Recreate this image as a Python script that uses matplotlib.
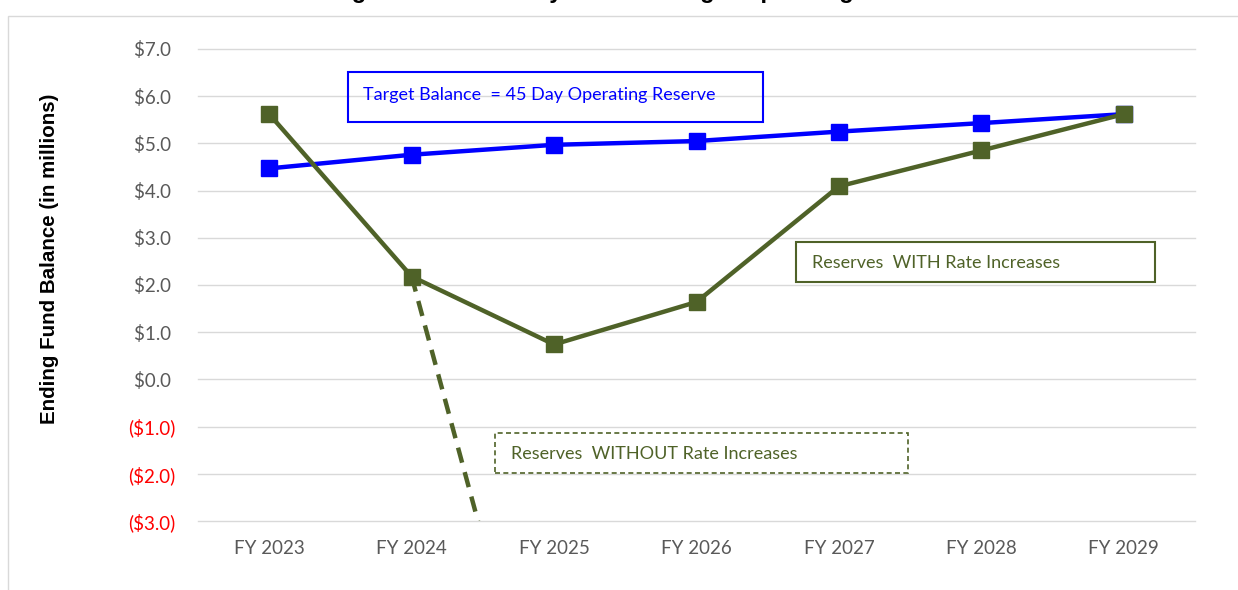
import matplotlib
matplotlib.use("Agg")
import matplotlib.pyplot as plt
from matplotlib import patches as mpatches

# ------------------------------------------------------------
# data (in $ millions)
# ------------------------------------------------------------
years = ["FY 2023", "FY 2024", "FY 2025", "FY 2026", "FY 2027", "FY 2028", "FY 2029"]
target_balance = [4.47, 4.76, 4.97, 5.05, 5.25, 5.43, 5.62]
with_rates = [5.62, 2.18, 0.74, 1.64, 4.09, 4.85, 5.62]
# without rate increases: only FY2024 -> FY2025 segment shown, runs off the bottom
without_years = [1, 2]
without_rates = [2.18, -8.95]

y_ticks = [7, 6, 5, 4, 3, 2, 1, 0, -1, -2, -3]

BLUE = "#0000FF"
GREEN = "#4F6228"
GRID = "#D9D9D9"
TICK_GRAY = "#595959"
TICK_FONT = "Lato"

fig = plt.figure(figsize=(12.38, 5.90), dpi=100)
ax = fig.add_axes([198 / 1238, 1 - 521 / 590, 997 / 1238, 472 / 590])

# outer chart-area border (clipped by the figure edges)
fig.patches.append(mpatches.Rectangle((8 / 1238, -0.1), 1.2, 1.1 - 16 / 590,
                                      transform=fig.transFigure, fill=False,
                                      edgecolor=GRID, linewidth=1.0))

x = list(range(len(years)))

ax.plot(x, target_balance, color=BLUE, lw=3.2, marker="s", ms=11.5,
        markerfacecolor=BLUE, markeredgecolor=BLUE, zorder=4)
ax.plot(without_years, without_rates, color=GREEN, lw=3.2, ls=(0, (3.5, 2.2)), zorder=3)
ax.plot(x, with_rates, color=GREEN, lw=3.2, marker="s", ms=11.5,
        markerfacecolor=GREEN, markeredgecolor=GREEN, zorder=5)

ax.set_xlim(-0.5, 6.5)
ax.set_ylim(-3, 7)
ax.set_yticks(y_ticks)
ax.set_yticklabels([f"${v:.1f} " if v >= 0 else f"(${abs(v):.1f})" for v in y_ticks])
for lbl, v in zip(ax.get_yticklabels(), y_ticks):
    lbl.set_color(TICK_GRAY if v >= 0 else "#FF0000")
    lbl.set_fontfamily(TICK_FONT)
    lbl.set_fontsize(13.5)
ax.set_xticks(x)
ax.set_xticklabels(years, fontfamily=TICK_FONT, fontsize=13.5, color=TICK_GRAY)
ax.tick_params(axis="y", length=0, pad=16)
ax.tick_params(axis="x", length=0, pad=14)

ax.grid(axis="y", color=GRID, lw=1.0, zorder=0)
for gl in ax.get_ygridlines():
    gl.set_clip_on(False)
ax.set_axisbelow(True)
for s in ax.spines.values():
    s.set_visible(False)

# ------------------------------------------------------------
# label boxes
# ------------------------------------------------------------
ax.add_patch(mpatches.Rectangle((0.554, 5.45), 2.915, 1.06, fill=False,
                                edgecolor=BLUE, lw=1.5, zorder=6))
ax.text(0.66, 6.02, "Target Balance  = 45 Day Operating Reserve", color=BLUE,
        fontfamily=TICK_FONT, fontsize=13, va="center", ha="left", zorder=7)

ax.add_patch(mpatches.Rectangle((3.70, 2.06), 2.516, 0.85, fill=False,
                                edgecolor=GREEN, lw=1.5, zorder=6))
ax.text(3.81, 2.47, "Reserves  WITH Rate Increases", color=GREEN,
        fontfamily=TICK_FONT, fontsize=13, va="center", ha="left", zorder=7)

ax.add_patch(mpatches.Rectangle((1.584, -1.983), 2.901, 0.847, fill=False,
                                edgecolor=GREEN, lw=1.2, ls=(0, (3, 2)), zorder=6))
ax.text(1.696, -1.57, "Reserves  WITHOUT Rate Increases", color=GREEN,
        fontfamily=TICK_FONT, fontsize=13, va="center", ha="left", zorder=7)

# y axis title
fig.text(50 / 1238, 1 - 259 / 590, "Ending Fund Balance (in millions)", rotation=90,
         fontfamily="Liberation Sans", fontweight="bold", fontsize=14.8,
         ha="center", va="center")

# chart title, cut off by the top edge in the original
fig.text(0.5, 1 + 2 / 590, "Ending Fund Balance by Year vs. Target Operating Reserve",
         fontfamily="Liberation Sans", fontweight="bold", fontsize=17,
         ha="center", va="baseline")

fig.savefig("out.png", dpi=100)
